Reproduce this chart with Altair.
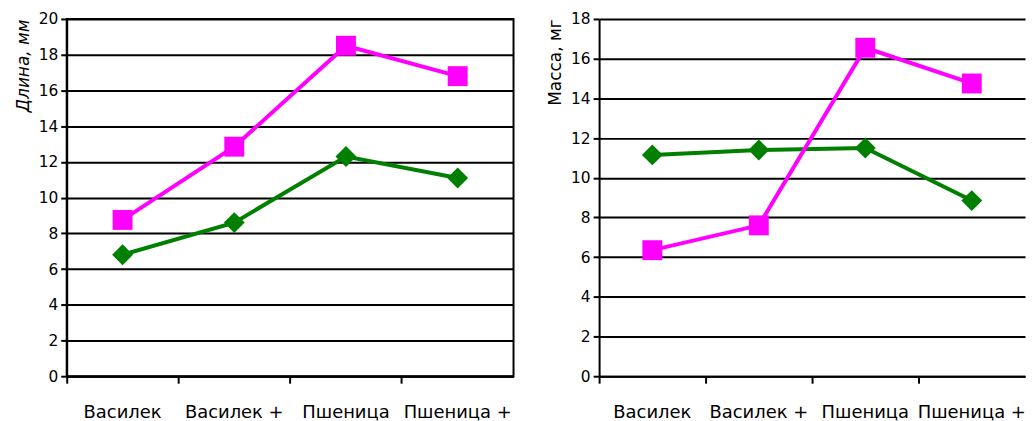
import altair as alt
import pandas as pd

categories = ["Василек", "Василек +", "Пшеница", "Пшеница +"]
length_green = [6.8, 8.6, 12.3, 11.1]
length_magenta = [8.75, 12.85, 18.5, 16.8]
mass_green = [11.15, 11.4, 11.5, 8.85]
mass_magenta = [6.35, 7.6, 16.55, 14.75]

GREEN = "#007F00"
MAGENTA = "#FF00FF"
FONT = "DejaVu Sans"


def panel(green, magenta, title, italic, ymax, w, h, border):
    df = pd.DataFrame({
        "cat": categories * 2,
        "val": list(green) + list(magenta),
        "series": ["g"] * len(categories) + ["m"] * len(categories),
    })
    x = alt.X(
        "cat:N", sort=categories,
        scale=alt.Scale(type="band", paddingInner=0, paddingOuter=0),
        axis=alt.Axis(title=None, labelAngle=0, bandPosition=0,
                      tickSize=7, tickWidth=2, tickColor="black", domainColor="black",
                      domainWidth=2, labelPadding=20, labelFontSize=18, labelFont=FONT,
                      labelColor="black", labelOverlap=False, labelFlush=False,
                      labelBound=False, grid=False),
    )
    y = alt.Y(
        "val:Q",
        scale=alt.Scale(domain=[0, ymax], nice=False, zero=True),
        axis=alt.Axis(values=list(range(0, ymax + 1, 2)), title=title,
                      titleFontStyle="italic" if italic else "normal",
                      titleFontWeight="normal", titleFontSize=17, titleFont=FONT,
                      titleColor="black", titleAnchor="end", titlePadding=6,
                      grid=True, gridColor="black", gridWidth=2, gridOpacity=1,
                      tickSize=6, tickWidth=2, tickColor="black",
                      domainColor="black", domainWidth=2,
                      labelFontSize=15.5, labelFont=FONT, labelColor="black",
                      labelPadding=3),
    )
    base = alt.Chart(df).encode(x=x, y=y)
    gl = base.transform_filter(alt.datum.series == "g")
    ml = base.transform_filter(alt.datum.series == "m")
    layers = [
        gl.mark_line(color=GREEN, strokeWidth=4),
        gl.mark_point(shape="diamond", filled=True, color=GREEN, size=440, opacity=1),
        ml.mark_line(color=MAGENTA, strokeWidth=4),
        ml.mark_point(shape="square", filled=True, color=MAGENTA, size=400, opacity=1),
    ]
    view = alt.ViewBackground(stroke="black", strokeWidth=2) if border else alt.ViewBackground(stroke="transparent")
    return alt.layer(*layers).properties(width=w, height=h, view=view)


left = panel(length_green, length_magenta, "Длина, мм", True, 20, 449, 359, True)
right = panel(mass_green, mass_magenta, "Масса, мг", False, 18, 428, 359, False)

chart = alt.hconcat(left, right, spacing=31).configure(
    padding={"left": 5, "top": 2, "right": 0, "bottom": 0}
).configure_view(stroke="black", strokeWidth=2)

chart.save("out.html", embed_options={"renderer": "svg", "actions": False})
